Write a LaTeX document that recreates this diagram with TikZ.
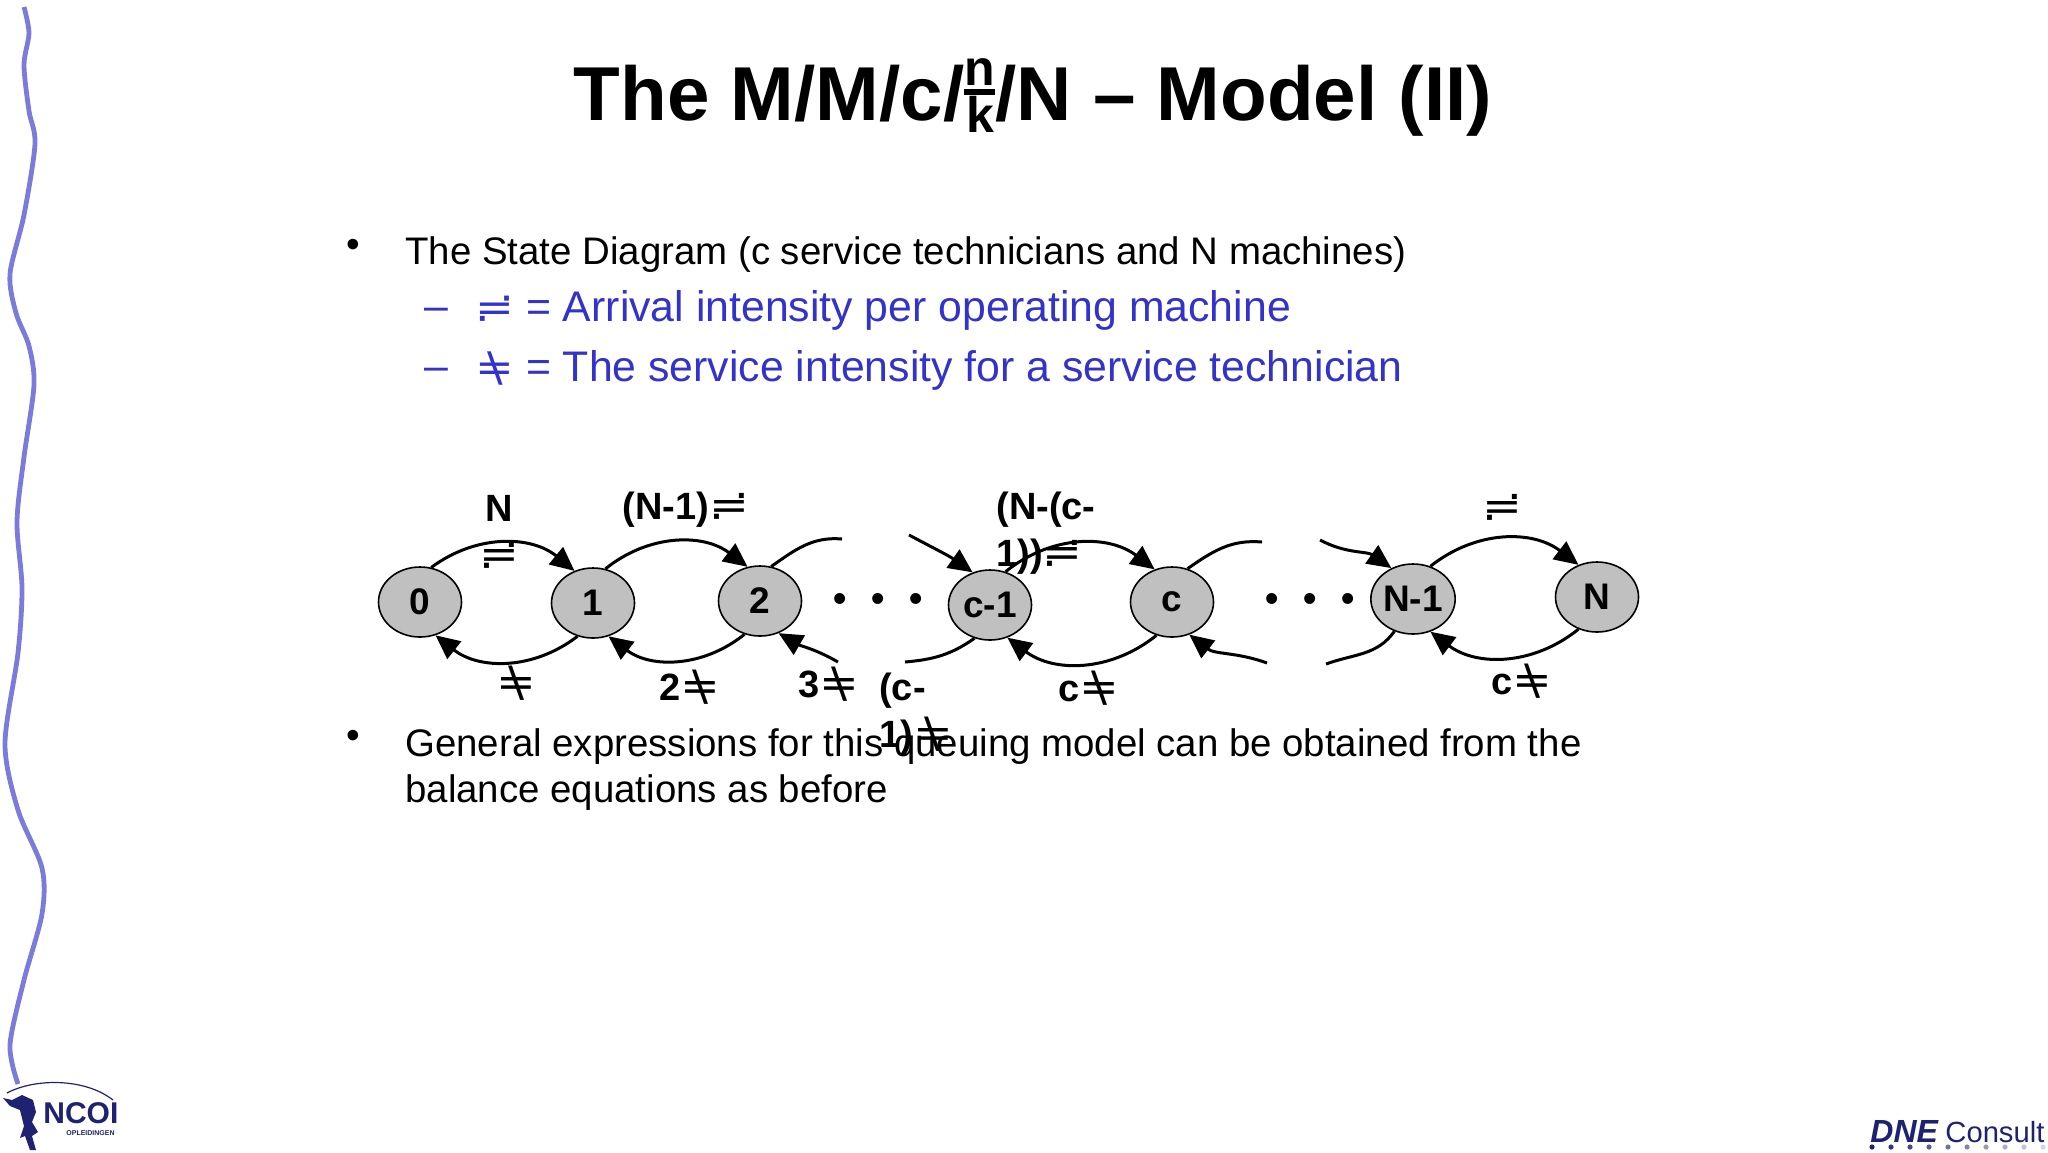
\documentclass[tikz,border=0pt]{standalone}
\usepackage{graphicx}
\usepackage{fontspec}
\usepackage{xcolor}
\usepackage{tikz}
\usetikzlibrary{arrows.meta,positioning,calc,shapes.geometric}
\setmainfont{Liberation Sans}
\newfontfamily\opsfont{DejaVu Sans}
\definecolor{slideBlue}{HTML}{3333CC}
\definecolor{slideWave}{HTML}{7B7BDC}
\definecolor{slideGrey}{HTML}{C0C0C0}
\definecolor{logoNavy}{HTML}{1F2270}
\newcommand{\lamsym}{\scalebox{1.25}[1.1]{\opsfont\mdseries ≓}}
\newcommand{\musym}{\scalebox{1.25}[1.1]{\opsfont\mdseries\ooalign{\hfil=\hfil\cr\hfil\textbackslash\hfil\cr}}}
\newcommand{\threedots}{\textbullet\hspace{.65em}\textbullet\hspace{.65em}\textbullet}
\newcommand{\nkfrac}{{\fontsize{25}{25}\selectfont\ooalign{\hfil\raisebox{17.5pt}{n}\hfil\cr\hfil\raisebox{-6pt}{k}\hfil\cr\rule[12.5pt]{15.5pt}{3pt}\cr}}}
\tikzset{
  state/.style={draw,ellipse,fill=slideGrey,line width=.8pt,minimum width=41.5pt,minimum height=35pt,inner sep=0pt,font=\fontsize{18.5}{23.5}\selectfont\bfseries},
  link/.style={-{Triangle[length=12pt,width=11pt]},line width=1.5pt},
  free/.style={line width=1.5pt},
  rate/.style={inner sep=0pt,font=\fontsize{19}{23.5}\selectfont\bfseries},
  body/.style={anchor=base west,inner sep=0pt,align=left,font=\fontsize{19.2}{23}\selectfont},
  blue/.style={body,text=slideBlue,font=\fontsize{21.4}{23}\selectfont}
}
\begin{document}
\begin{tikzpicture}[x=.5pt,y=-.5pt,>=Latex]
\useasboundingbox (0,0) rectangle (2048,1152);
\draw[slideWave,line width=2.4pt] plot[smooth] coordinates {(24,7) (29,33) (24,65) (29,111) (35,144) (24,215) (10,274) (16,313) (29,346) (34,385) (24,457) (17,522) (22,588) (18,653) (5,744) (18,810) (42,868) (42,914) (24,980) (10,1045) (18,1084)};

\node[anchor=base,inner sep=0pt,font=\fontsize{38.2}{40}\selectfont\bfseries] (title) at (1033,120) {The M/M/c/\nkfrac/N -- Model (II)};

\node[anchor=base,inner sep=0pt,font=\fontsize{19.5}{23}\selectfont] (b1) at (353,257) {•};
\node[body] (t1) at (405,264) {The State Diagram (c service technicians and N machines)};
\node[blue] (d1) at (424,320) {--};
\node[blue] (t2) at (475,321) {{\fontsize{18.5}{23}\selectfont\lamsym} = Arrival intensity per operating machine};
\node[blue] (d2) at (424,380) {--};
\node[blue] (t3) at (475,381) {{\fontsize{18.5}{23}\selectfont\musym} = The service intensity for a service technician};
\node[anchor=base,inner sep=0pt,font=\fontsize{19.5}{23}\selectfont] (b2) at (353,748) {•};
\node[body] (t4) at (405,802) {General expressions for this queuing model can be obtained from the\\balance equations as before};

\node[state] (n0) at (420,602) {0};
\node[state] (n1) at (593,603) {1};
\node[state] (n2) at (760,601) {2};
\node[state] (nc1) at (990,605) {c-1};
\node[state] (nc) at (1172,602) {c};
\node[state] (nN1) at (1413,599) {N-1};
\node[state] (nN) at (1597,597) {N};

\coordinate (e2) at (842,539);
\coordinate (f2) at (838,662);
\coordinate (e3) at (909,535);
\coordinate (f3) at (905,662);
\coordinate (e4) at (1262,542);
\coordinate (f4) at (1267,663);
\coordinate (e5) at (1320,540);
\coordinate (f5) at (1326,664);

\draw[link] (n0.72) to[bend left=38] (n1.120);
\draw[link] (n1.245) to[bend left=38] (n0.295);
\draw[link] (n1.70) to[bend left=38] (n2.110);
\draw[link] (n2.245) to[bend left=38] (n1.295);
\draw[free] (n2.72) to[out=35,in=175] (e2);
\draw[link] (f2) to[out=150,in=-30] (n2.300);
\draw[link] (e3) to[out=-28,in=145] (nc1.118);
\draw[free] (nc1.245) to[out=215,in=5] (f3);
\draw[link] (nc1.65) to[bend left=38] (nc.118);
\draw[link] (nc.245) to[bend left=38] (nc1.298);
\draw[free] (nc.65) to[out=35,in=175] (e4);
\draw[link] (f4) to[out=160,in=-38] (nc.298);
\draw[link] (e5) to[out=-28,in=145] (nN1.125);
\draw[free] (nN1.240) to[out=235,in=20] (f5);
\draw[link] (nN1.62) to[bend left=38] (nN.120);
\draw[link] (nN.240) to[bend left=38] (nN1.298);

\node[rate] (d3) at (878,602) {\threedots};
\node[rate] (d4) at (1310,602) {\threedots};

\node[rate,align=center] (r0) at (499,532) {N\\\lamsym};
\node[rate] (r1) at (686,510) {(N-1)\lamsym};
\node[rate,align=left] (r2) at (1046,533) {(N-(c-\\1))\lamsym};
\node[rate] (r3) at (1502,507) {\lamsym};
\node[rate] (s0) at (516,689) {\musym};
\node[rate] (s1) at (690,689) {2\musym};
\node[rate] (s2) at (829,686) {3\musym};
\node[rate,align=left] (s3) at (916,714) {(c-\\1)\musym};
\node[rate] (s4) at (1089,693) {c\musym};
\node[rate] (s5) at (1522,686) {c\musym};

\draw[logoNavy,line width=.6pt] (7,1093) .. controls (35,1078) and (85,1078) .. (113,1100);
\fill[logoNavy] (3,1098) -- (12,1100) -- (22,1095) -- (33,1100) -- (36,1112) -- (32,1122) -- (38,1132) -- (32,1136) -- (36,1150) -- (30,1150) -- (25,1136) -- (20,1138) -- (24,1126) -- (20,1110) -- (10,1106) -- cycle;
\node[inner sep=0pt,anchor=base west,text=logoNavy,font=\fontsize{15}{15}\selectfont\bfseries] (ncoi) at (43,1123) {NCOI};
\node[inner sep=0pt,anchor=base west,text=logoNavy,font=\fontsize{3.5}{4}\selectfont\bfseries] (opl) at (66,1135) {OPLEIDINGEN};
\node[inner sep=0pt,anchor=base west,text=logoNavy,font=\fontsize{16}{16}\selectfont\bfseries\itshape] (dne) at (1870,1142) {DNE};
\node[inner sep=0pt,anchor=base west,text=logoNavy,font=\fontsize{14.6}{15}\selectfont] (cons) at (1945,1142) {Consult};
\foreach \i in {0,...,9} {
  \pgfmathsetmacro{\shade}{100-9*\i}
  \fill[logoNavy!\shade!white] ({1872+19*\i},1147) circle (2.6);
}
\end{tikzpicture}
\end{document}
